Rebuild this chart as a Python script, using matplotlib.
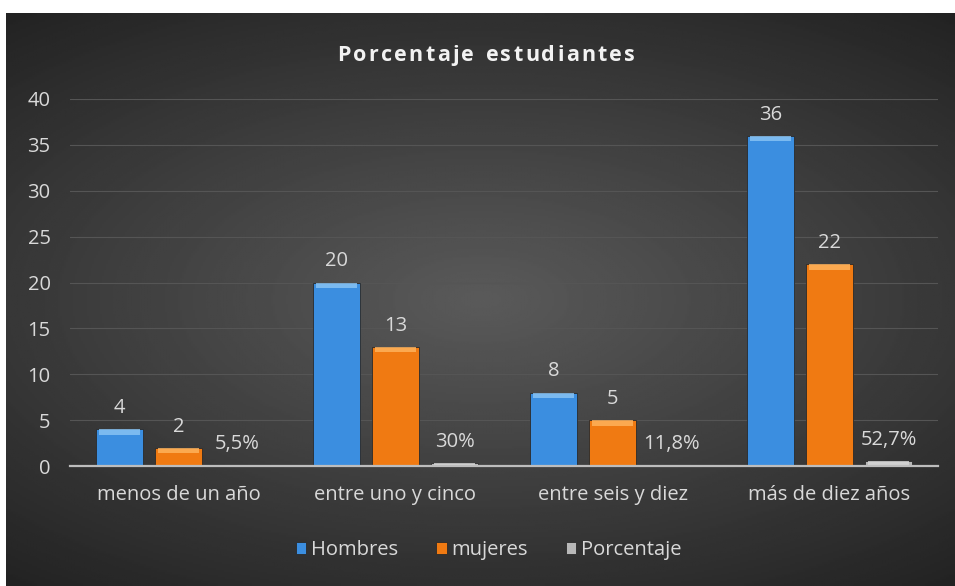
import numpy as np
import matplotlib.pyplot as plt

categorias = ['menos de un año', 'entre uno y cinco', 'entre seis y diez', 'más de diez años']
hombres = [4, 20, 8, 36]
mujeres = [2, 13, 5, 22]
porcentaje = [0.055, 0.30, 0.118, 0.527]
etiquetas_pct = ['5,5%', '30%', '11,8%', '52,7%']
titulo = 'Porcentaje estudiantes'

plt.rcParams['font.family'] = ['Open Sans', 'DejaVu Sans']

fig = plt.figure(figsize=(9.55, 5.86), dpi=100, facecolor='white')

# fondo oscuro con degradado radial (estilo Excel)
bg = fig.add_axes([6 / 955, 0, 949 / 955, 573 / 586], zorder=0)
yy, xx = np.mgrid[-1:1:300j, -1:1:500j]
r = np.sqrt((xx * 0.9) ** 2 + (yy * 1.1) ** 2)
bg.imshow(np.clip(r, 0, 1.4), cmap=plt.cm.gray_r, vmin=-4.2, vmax=2.3,
          aspect='auto', extent=[0, 1, 0, 1], interpolation='bilinear')
bg.axis('off')

ax = fig.add_axes([70 / 955, 120 / 586, 868 / 955, 367 / 586], zorder=1)
ax.patch.set_alpha(0)

x = np.arange(len(categorias))
w = 0.218
off = 0.272
txt = '#d9d9d9'
fs = 14.5

series = [(hombres, '#3b8ee0', '#8cc6f5', 'Hombres'),
          (mujeres, '#f07a12', '#ffb560', 'mujeres'),
          (porcentaje, '#b8b8b8', '#d8d8d8', 'Porcentaje')]

for i, (vals, col, top, name) in enumerate(series):
    pos = x + (i - 1) * off
    ax.bar(pos, vals, width=w, color=col, edgecolor='#2a2a2a', linewidth=0.6,
           label=name, zorder=3)
    # brillo superior (bisel)
    band = [min(v, 0.6) for v in vals]
    ax.bar(pos, band, width=w * 0.86, bottom=[v - b for v, b in zip(vals, band)],
           color=top, linewidth=0, zorder=4, alpha=0.8)
    labs = etiquetas_pct if i == 2 else [str(v) for v in vals]
    for p, v, lab in zip(pos, vals, labs):
        ax.annotate(lab, (p, v), xytext=(0, 8), textcoords='offset points',
                    ha='center', va='bottom', color=txt, fontsize=fs)

ax.set_xlim(-0.5, 3.5)
ax.set_ylim(0, 40)
ax.set_yticks(range(0, 41, 5))
ax.yaxis.grid(True, color='#555555', linewidth=0.8, zorder=0)
ax.set_axisbelow(True)
for s in ['top', 'right', 'left']:
    ax.spines[s].set_visible(False)
ax.spines['bottom'].set_color('#bdbdbd')
ax.spines['bottom'].set_linewidth(1.6)
ax.spines['bottom'].set_zorder(5)
ax.set_xticks(x)
ax.set_xticklabels(categorias)
ax.tick_params(axis='x', length=0, pad=14, colors=txt, labelsize=fs)
ax.tick_params(axis='y', length=0, pad=14, colors=txt, labelsize=fs)

# titulo con espaciado entre letras
fig.canvas.draw()
rend = fig.canvas.get_renderer()
extra = 2.2
tfs = 15.5
anchos = []
for ch in titulo:
    t = fig.text(0, 0, ch if ch != ' ' else 'a', fontsize=tfs, fontweight='bold')
    anchos.append(t.get_window_extent(rend).width * (0.6 if ch == ' ' else 1))
    t.remove()
total = sum(anchos) + extra * (len(titulo) - 1)
xpx = 486 - total / 2
for ch, a in zip(titulo, anchos):
    fig.text(xpx / 955, 0.906, ch, ha='left', va='center', color='#f2f2f2',
             fontsize=tfs, fontweight='bold')
    xpx += a + extra

fig.legend(loc='center', bbox_to_anchor=(0.512, 0.061), ncol=3, frameon=False,
           fontsize=fs, handlelength=0.5, handleheight=0.5, handletextpad=0.25,
           columnspacing=1.9, labelcolor=txt)

fig.savefig('out.png', dpi=100, facecolor=fig.get_facecolor())
